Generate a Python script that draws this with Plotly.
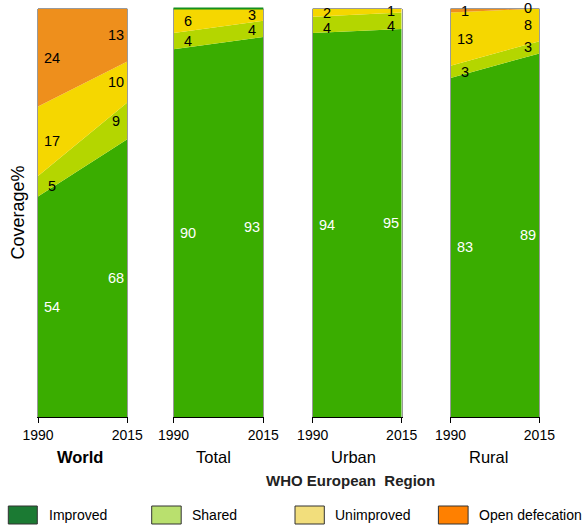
import plotly.graph_objects as go

panels = ["World", "Total", "Urban", "Rural"]
years = [1990, 2015]
improved_1990 = [54, 90, 94, 83]
improved_2015 = [68, 93, 95, 89]
shared_1990 = [5, 4, 4, 3]
shared_2015 = [9, 4, 4, 3]
unimproved_1990 = [17, 6, 2, 13]
unimproved_2015 = [10, 3, 1, 8]
open_1990 = [24, None, None, 1]
open_2015 = [13, None, None, 0]

series = [
    ("Improved", improved_1990, improved_2015, "#3aad00", "white"),
    ("Shared", shared_1990, shared_2015, "#b4d600", "black"),
    ("Unimproved", unimproved_1990, unimproved_2015, "#f5d700", "black"),
    ("Open defecation", open_1990, open_2015, "#ee8f1c", "black"),
]
legend_colors = ["#1b7a33", "#b9e06e", "#f2de7c", "#ff8000"]

W, H = 582, 527
FONT = "Arial, Liberation Sans, sans-serif"
xdom_px = [(38, 127.3), (173.5, 263.3), (312.7, 401.7), (450.5, 539.4)]
ydom = [(527 - 417) / H, (527 - 8.5) / H]
PX_PER_UNIT = (417 - 8.5) / 100.0
MIN_GAP = 15  # px between stacked value labels

fig = go.Figure()
annotations = []
shapes = []

for i, name in enumerate(panels):
    sfx = "" if i == 0 else str(i + 1)
    xa, ya = "x" + sfx, "y" + sfx
    bottoms = [0, 0]
    labels = [[], []]
    for sname, v90, v15, col, tcol in series:
        vals = [v90[i], v15[i]]
        if vals[0] is None or vals[1] is None:
            continue
        fig.add_trace(go.Scatter(
            x=years, y=vals, stackgroup="g%d" % i, mode="none",
            fillcolor=col, line=dict(width=0), name=sname,
            showlegend=False, xaxis=xa, yaxis=ya, hoverinfo="skip"))
        for k in range(2):
            labels[k].append((bottoms[k] + vals[k] / 2, vals[k], tcol))
        bottoms = [bottoms[0] + vals[k_] for k_ in (0,)] + [bottoms[1] + vals[1]]
    for k in range(2):
        # top to bottom, keep labels apart
        prev_px = None
        for mid, v, tcol in sorted(labels[k], key=lambda t: -t[0]):
            ypx = (100 - mid) * PX_PER_UNIT
            shift = 0
            if prev_px is not None and ypx - prev_px < MIN_GAP:
                shift = MIN_GAP - (ypx - prev_px)
            prev_px = ypx + shift
            annotations.append(dict(
                x=years[k], y=mid, xref=xa, yref=ya, text=str(v),
                showarrow=False, xanchor="center", yanchor="middle",
                xshift=14 if k == 0 else -11, yshift=-shift,
                font=dict(family=FONT, size=14.5, color=tcol)))
    x0, x1 = xdom_px[i]
    fig.update_layout({
        "xaxis" + sfx: dict(domain=[x0 / W, x1 / W], anchor=ya, range=[1990, 2015],
                            tickvals=years, showline=True, linecolor="black", linewidth=1,
                            ticks="outside", ticklen=5, tickcolor="black",
                            showgrid=False, zeroline=False, automargin=False,
                            tickfont=dict(family=FONT, size=14, color="black")),
        "yaxis" + sfx: dict(domain=list(ydom), anchor=xa, range=[0, 100],
                            showticklabels=False, showgrid=False, zeroline=False,
                            showline=True, linecolor="#9a9a9a", linewidth=1, mirror=True,
                            ticks="", automargin=False),
    })
    shapes.append(dict(type="line", xref=xa + " domain", yref=ya + " domain",
                       x0=0, x1=1, y0=1, y1=1, line=dict(color="#9a9a9a", width=1)))
    if name == "Total":
        shapes.append(dict(type="line", xref=xa + " domain", yref=ya + " domain",
                           x0=0, x1=1, y0=1, y1=1, line=dict(color="#14901e", width=2)))

# panel titles
title_pos = [(79.7, "<b>World</b>"), (213.3, "Total"), (353.4, "Urban"), (488, "Rural")]
for xc, txt in title_pos:
    annotations.append(dict(x=xc / W, y=(527 - 457) / H, xref="paper", yref="paper",
                            text=txt, showarrow=False, xanchor="center", yanchor="middle",
                            font=dict(family=FONT, size=16.5, color="black")))
annotations.append(dict(x=350 / W, y=(527 - 480.5) / H, xref="paper", yref="paper",
                        text="<b>WHO European  Region</b>", showarrow=False,
                        xanchor="center", yanchor="middle",
                        font=dict(family=FONT, size=15, color="#222")))
annotations.append(dict(x=17.5 / W, y=(527 - 213) / H, xref="paper", yref="paper",
                        text="Coverage%", textangle=-90, showarrow=False,
                        xanchor="center", yanchor="middle",
                        font=dict(family=FONT, size=18, color="black")))

# legend
leg_x = [(8.3, 37.3, 46.7), (151.7, 181.2, 190.3), (295, 324.3, 333.3), (438.4, 468.1, 476.8)]
for (s0, s1, lx), (sname, *_), lc in zip(leg_x, series, legend_colors):
    shapes.append(dict(type="rect", xref="paper", yref="paper",
                       x0=s0 / W, x1=s1 / W, y0=(527 - 524) / H, y1=(527 - 506) / H,
                       fillcolor=lc, line=dict(color="#333", width=1)))
    annotations.append(dict(x=lx / W, y=(527 - 515) / H, xref="paper", yref="paper",
                            text=sname, showarrow=False, xanchor="left", yanchor="middle",
                            font=dict(family=FONT, size=14, color="black")))

fig.update_layout(width=W, height=H, margin=dict(l=0, r=0, t=0, b=0, autoexpand=False),
                  paper_bgcolor="white", plot_bgcolor="white",
                  showlegend=False, annotations=annotations, shapes=shapes)
fig.write_html("out.html", config={"displayModeBar": False},
               post_script="document.body.style.margin='0';document.body.style.overflow='hidden';")
